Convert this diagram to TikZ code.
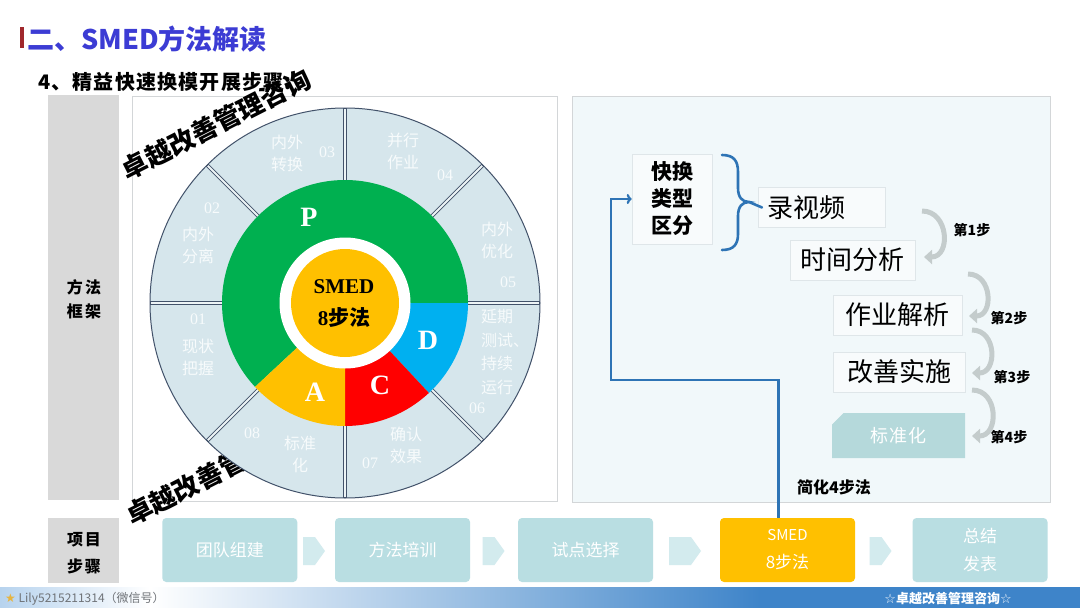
\documentclass[tikz,border=0pt]{standalone}
\usepackage{fontspec}
\setmainfont{Noto Sans CJK SC}
\newfontfamily\tms{Liberation Serif}
\newfontfamily\djv{DejaVu Sans}
\usetikzlibrary{arrows.meta,shapes.misc}
\newcommand{\myfs}[2]{\fontsize{#1}{#2}\selectfont}
\definecolor{ttlblue}{HTML}{3C3CD4}
\definecolor{ttlred}{HTML}{A0282C}
\definecolor{colgray}{HTML}{D9D9D9}
\definecolor{panelb}{HTML}{D3D6D8}
\definecolor{rpanel}{HTML}{F1F8FA}
\definecolor{segfill}{HTML}{D6E6EC}
\definecolor{segdark}{HTML}{42526A}
\definecolor{pgreen}{HTML}{00B050}
\definecolor{pblue}{HTML}{00B0F0}
\definecolor{pred}{HTML}{FF0000}
\definecolor{porange}{HTML}{FFC000}
\definecolor{bluel}{HTML}{2E74B5}
\definecolor{boxfill}{HTML}{F8FBFC}
\definecolor{boxline}{HTML}{DFE6E9}
\definecolor{stdfill}{HTML}{B5D9DB}
\definecolor{arrg}{HTML}{C4CCCC}
\definecolor{stepc}{HTML}{B9DEE2}
\definecolor{chevc}{HTML}{D3EBEE}
\definecolor{footl}{HTML}{B7D3EE}
\definecolor{footr}{HTML}{3E84C9}
\definecolor{footgray}{HTML}{6F7378}
\definecolor{stargold}{HTML}{E6B440}
\definecolor{segtext}{HTML}{F7FBFC}
\tikzset{
  wm/.style={font=\myfs{26}{26}\bfseries, text=black},
  segtx/.style={text=segtext, font=\myfs{16}{22}, align=center},
  pdca/.style={text=white, font=\tms\bfseries\myfs{28}{28}},
  rbox/.style={fill=boxfill, draw=boxline, line width=0.6pt, minimum height=40pt, font=\myfs{26}{26}},
  curv/.style={arrg, line width=5pt, -{Triangle[width=14pt,length=8pt]}},
  steplab/.style={font=\myfs{14}{14}\bfseries},
  bracel/.style={bluel, line width=2.6pt, line cap=round},
  conn/.style={bluel, line width=2.2pt, -{To[length=5pt,width=10pt]}},
  stepbox/.style={fill=stepc, rounded corners=4pt, minimum width=135pt, minimum height=64pt, text=white, font=\myfs{17}{28}, align=center},
  chev/.style={fill=chevc},
  lab/.style={font=\myfs{16}{26}\bfseries, align=center}
}
\newcommand{\segtxt}[5]{%
  \node[segtx,#4] (#1) at (#2,#3) {#5};}
\newcommand{\chevat}[2]{%
  \fill[chev] (#1-#2,537) -- (#1+#2-10,537) -- (#1+#2,551) -- (#1+#2-10,565) -- (#1-#2,565) -- cycle;}
\begin{document}
\begin{tikzpicture}[x=1pt,y=-1pt, every node/.style={inner sep=0pt}]
\useasboundingbox (0,0) rectangle (1080,608);
\fill[white] (0,0) rectangle (1080,608);

% title
\fill[ttlred] (20,27) rectangle (24,48);
\node[anchor=west, text=ttlblue, font=\myfs{27}{30}\bfseries] (title) at (27,39) {二、SMED方法解读};
\node[anchor=west, font=\myfs{20}{24}\bfseries\addfontfeature{LetterSpace=6}] (sub) at (38,82) {4、精益快速换模开展步骤:};

% left label column
\fill[colgray] (48,95) rectangle (119,500);
\node[lab, font=\myfs{16}{24}\bfseries\addfontfeature{LetterSpace=15}] (lab1) at (84,299) {方法\\框架};

% panels
\filldraw[fill=white, draw=panelb, line width=0.8pt] (132,96) rectangle (557,501);
\filldraw[fill=rpanel, draw=panelb, line width=0.8pt] (572,96) rectangle (1050,502);

% lower watermark (partly under the wheel)
\node[wm, rotate=27] (wm2) at (186,487.5) {卓越改善管};

% wheel
\begin{scope}[shift={(345,303)}, yscale=-1]
  \fill[segfill] (0,0) circle[radius=195];
  \foreach \a in {0,45,...,315} {
    \draw[segdark, line width=3.8pt] (0,0) -- (\a:195);
    \draw[white!55!segfill, line width=1.8pt] (0,0) -- (\a:194);
  }
  \draw[segdark, line width=1pt] (0,0) circle[radius=195];
  \fill[pgreen] (0:123) arc[start angle=0, end angle=223, radius=123] -- (223:65) arc[start angle=223, end angle=0, radius=65] -- cycle;
  \fill[pblue] (-47:123) arc[start angle=-47, end angle=0, radius=123] -- (0:65) arc[start angle=0, end angle=-47, radius=65] -- cycle;
  \fill[pred] (-90:123) arc[start angle=-90, end angle=-47, radius=123] -- (-47:65) arc[start angle=-47, end angle=-90, radius=65] -- cycle;
  \fill[porange] (223:123) arc[start angle=223, end angle=270, radius=123] -- (270:65) arc[start angle=270, end angle=223, radius=65] -- cycle;
  \fill[white] (0,0) circle[radius=65.5];
  \fill[porange] (0,0) circle[radius=54];
\end{scope}

% segment texts
\segtxt{t05}{497}{240}{}{内外\\优化}
\segtxt{n05}{508}{282}{}{\tms 05}
\segtxt{t04}{403}{151}{}{并行\\作业}
\segtxt{n04}{445}{175}{}{\tms 04}
\segtxt{t03}{287}{153}{}{内外\\转换}
\segtxt{n03}{327}{152}{}{\tms 03}
\segtxt{n02}{212}{208}{}{\tms 02}
\segtxt{t02}{198}{245}{}{内外\\分离}
\segtxt{n01}{198}{319}{}{\tms 01}
\segtxt{t01}{198}{357}{}{现状\\把握}
\segtxt{n08}{252}{433}{}{\tms 08}
\segtxt{t08}{300}{454}{}{标准\\化}
\segtxt{t07}{406}{445}{}{确认\\效果}
\segtxt{n07}{370}{463}{}{\tms 07}
\segtxt{t06}{481}{352}{anchor=west, align=left, font=\myfs{16}{23.5}}{延期\\测试、\\持续\\运行}
\segtxt{n06}{477}{408}{}{\tms 06}

% PDCA letters
\node[pdca] (P) at (309,217) {P};
\node[pdca] (D) at (428,340) {D};
\node[pdca] (C) at (380,385) {C};
\node[pdca] (A) at (315,392) {A};
\node[font=\tms\bfseries\myfs{21}{21}] (smedc) at (344,287) {SMED};
\node[font=\myfs{21}{21}\bfseries] (stepsc) at (344,318) {{\tms 8}步法};

% right panel
\node[fill=boxfill, draw=boxline, line width=0.6pt, minimum width=80pt, minimum height=90pt, font=\myfs{21}{27}\bfseries, align=center] (kh) at (672,199) {快换\\类型\\区分};
\node[rbox, anchor=west, text width=109pt, inner xsep=9pt, align=left] (rec) at (758,207.5) {录视频};
\node[rbox, minimum width=125pt] (tim) at (852.5,260) {时间分析};
\node[rbox, minimum width=129pt] (zuo) at (897.5,315) {作业解析};
\node[rbox, minimum width=132pt] (gai) at (899,372) {改善实施};
\node[chamfered rectangle, chamfered rectangle corners=north west, chamfered rectangle xsep=8pt, fill=stdfill, minimum width=133pt, minimum height=45pt, text=white, font=\myfs{18}{18}\addfontfeature{LetterSpace=8}] (std) at (898.5,435.5) {标准化};

\draw[bracel] (722,155) .. controls (734,155) and (738,161) .. (738,172) -- (738,188) .. controls (738,197) and (742,202) .. (749,202) .. controls (742,202) and (738,207) .. (738,216) -- (738,234) .. controls (738,244) and (734,250) .. (722,250);
\coordinate (btip) at (749,202);
\draw[bracel] (btip) -- ([xshift=4pt]rec.west);

\coordinate (c1a) at (922,211); \coordinate (c1b) at (924,257);
\coordinate (c2a) at (968,274); \coordinate (c2b) at (969,316);
\coordinate (c3a) at (972,330); \coordinate (c3b) at (972,373);
\coordinate (c4a) at (972,390); \coordinate (c4b) at (972,436);
\draw[curv] (c1a) to[out=0, in=0, looseness=1.5] (c1b);
\draw[curv] (c2a) to[out=0, in=0, looseness=1.5] (c2b);
\draw[curv] (c3a) to[out=0, in=0, looseness=1.5] (c3b);
\draw[curv] (c4a) to[out=0, in=0, looseness=1.5] (c4b);
\node[steplab] (s1) at (972,230) {第1步};
\node[steplab] (s2) at (1009,318) {第2步};
\node[steplab] (s3) at (1012,377) {第3步};
\node[steplab] (s4) at (1009,437) {第4步};
\node[font=\myfs{16}{16}\bfseries] (jh) at (834,487) {简化4步法};

% bottom row
\fill[colgray] (48,518) rectangle (119,583);
\node[lab, font=\myfs{16}{27}\bfseries\addfontfeature{LetterSpace=10}] (lab2) at (84,553) {项目\\步骤};
\node[stepbox] (b1) at (229.75,550) {团队组建};
\node[stepbox] (b2) at (402.5,550) {方法培训};
\node[stepbox] (b3) at (585.5,550) {试点选择};
\node[stepbox, fill=porange] (b4) at (787.5,550) {{\myfs{15}{28}SMED}\\8步法};
\node[stepbox] (b5) at (980,550) {总结\\发表};
\chevat{314}{11}
\chevat{493.5}{11}
\chevat{685}{16}
\chevat{880.5}{11}

\draw[conn] ([xshift=-9pt]b4.north) -- ++(0,-138) -| ([xshift=-21pt]kh.west) -- (kh.west);

% footer
\shade[left color=footl, right color=white] (0,587) rectangle (150,608);
\shade[left color=white, right color=footr] (150,587) rectangle (760,608);
\fill[footr] (760,587) rectangle (1080,608);
\node[anchor=west, text=footgray, font=\myfs{12}{12}] (ft1) at (5,599) {{\djv\color{stargold}★} Lily5215211314（微信号）};
\node[text=white, font=\myfs{13}{13}\bfseries] (ft2) at (948,599) {{\djv ☆}卓越改善管理咨询{\djv ☆}};

% upper watermark
\node[wm, rotate=27] (wm1) at (216,124) {卓越改善管理咨询};
\end{tikzpicture}
\end{document}
